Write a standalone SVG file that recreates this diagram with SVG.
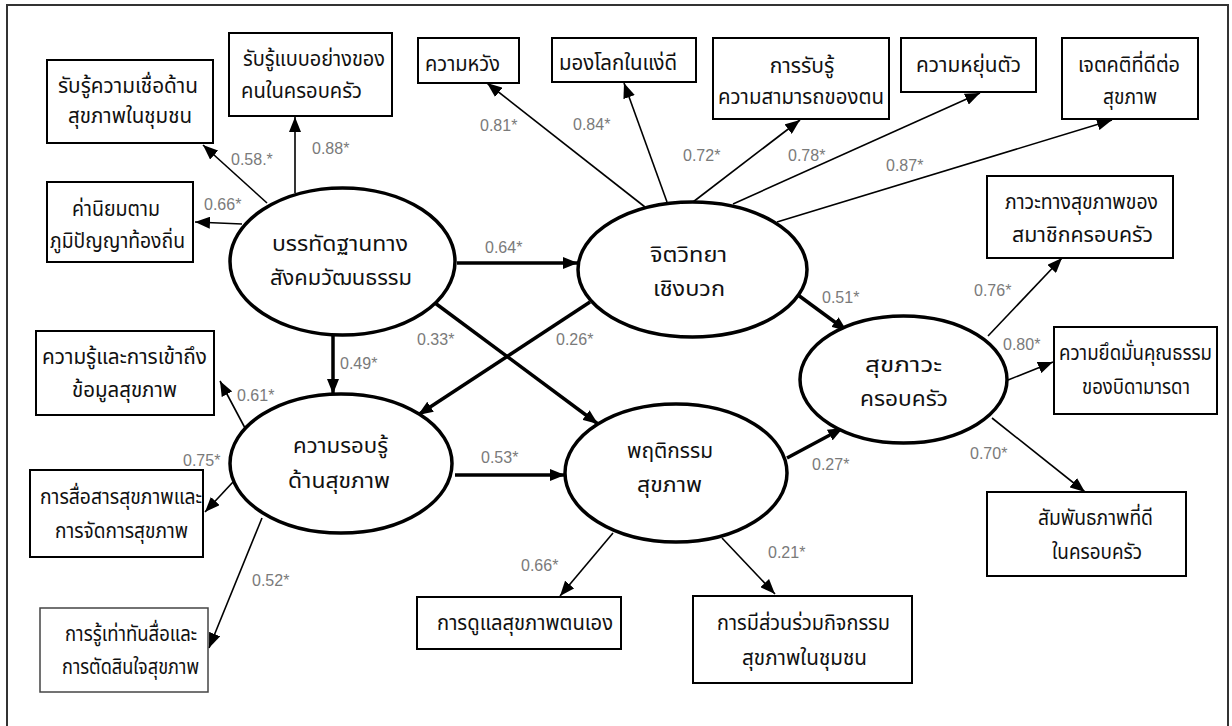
<svg xmlns="http://www.w3.org/2000/svg" width="1232" height="726" viewBox="0 0 1232 726">
<style>
.frame{fill:none;stroke:#333;stroke-width:2}
.box{fill:#fff;stroke:#000;stroke-width:2}
.box2{fill:#fff;stroke:#444;stroke-width:1.5}
.ell{fill:#fff;stroke:#000;stroke-width:3.5}
.t{font-family:"Noto Sans Thai","Tahoma","Liberation Sans",sans-serif;font-size:21px;fill:#111;text-anchor:middle}
.te{font-family:"Noto Sans Thai","Tahoma","Liberation Sans",sans-serif;font-size:22px;fill:#111;text-anchor:middle}
.lb{font-family:"Liberation Sans",Arial,sans-serif;font-size:16px;fill:#7a7a7a}
.thick{fill:none;stroke:#000;stroke-width:3.5;marker-end:url(#ah)}
.thin{fill:none;stroke:#000;stroke-width:1.6;marker-end:url(#ah)}
</style>
<defs>
<marker id="ah" markerUnits="userSpaceOnUse" markerWidth="16" markerHeight="12" refX="15" refY="6" orient="auto">
<path d="M0,0 L15,6 L0,12 z" fill="#000"/>
</marker>
</defs>
<rect class="frame" x="7" y="5" width="1221" height="730"/>

<g id="connectors">
<line class="thick" x1="457" y1="263" x2="578" y2="263"/>
<line class="thick" x1="333" y1="335" x2="333" y2="394"/>
<line class="thick" x1="435" y1="303" x2="598" y2="424"/>
<line class="thick" x1="590" y1="302" x2="418" y2="415"/>
<line class="thick" x1="455" y1="475" x2="565" y2="475"/>
<line class="thick" x1="798" y1="295" x2="847" y2="331"/>
<line class="thick" x1="787" y1="458" x2="843" y2="428"/>
<line class="thin" x1="267" y1="203" x2="203" y2="145"/>
<line class="thin" x1="295" y1="193" x2="295" y2="117"/>
<line class="thin" x1="242" y1="224" x2="195" y2="222"/>
<line class="thin" x1="645" y1="207" x2="487" y2="83"/>
<line class="thin" x1="667" y1="202" x2="624" y2="83"/>
<line class="thin" x1="693" y1="202" x2="800" y2="120"/>
<line class="thin" x1="733" y1="204" x2="980" y2="93"/>
<line class="thin" x1="777" y1="222" x2="1112" y2="120"/>
<line class="thin" x1="988" y1="336" x2="1062" y2="258"/>
<line class="thin" x1="1008" y1="380" x2="1053" y2="362"/>
<line class="thin" x1="992" y1="418" x2="1085" y2="492"/>
<line class="thin" x1="613" y1="533" x2="560" y2="596"/>
<line class="thin" x1="722" y1="538" x2="775" y2="594"/>
<line class="thin" x1="245" y1="428" x2="220" y2="381"/>
<line class="thin" x1="233" y1="482" x2="205" y2="512"/>
<line class="thin" x1="262" y1="518" x2="209" y2="648"/>
</g>

<g id="labels">
<text class="lb" x="231" y="165">0.58.*</text>
<text class="lb" x="312" y="154">0.88*</text>
<text class="lb" x="204" y="210">0.66*</text>
<text class="lb" x="480" y="131">0.81*</text>
<text class="lb" x="573" y="130">0.84*</text>
<text class="lb" x="683" y="161">0.72*</text>
<text class="lb" x="788" y="161">0.78*</text>
<text class="lb" x="886" y="171">0.87*</text>
<text class="lb" x="485" y="253">0.64*</text>
<text class="lb" x="340" y="369">0.49*</text>
<text class="lb" x="237" y="401">0.61*</text>
<text class="lb" x="183" y="466">0.75*</text>
<text class="lb" x="252" y="586">0.52*</text>
<text class="lb" x="417" y="345">0.33*</text>
<text class="lb" x="556" y="345">0.26*</text>
<text class="lb" x="481" y="463">0.53*</text>
<text class="lb" x="822" y="303">0.51*</text>
<text class="lb" x="812" y="470">0.27*</text>
<text class="lb" x="974" y="296">0.76*</text>
<text class="lb" x="1003" y="350">0.80*</text>
<text class="lb" x="970" y="459">0.70*</text>
<text class="lb" x="521" y="571">0.66*</text>
<text class="lb" x="768" y="558">0.21*</text>
</g>

<g id="n-sociocultural">
<ellipse class="ell" cx="342.5" cy="261.5" rx="112.5" ry="73.5"/>
<text class="te" x="340" y="251" textLength="136" lengthAdjust="spacingAndGlyphs">บรรทัดฐานทาง</text>
<text class="te" x="341" y="285" textLength="142" lengthAdjust="spacingAndGlyphs">สังคมวัฒนธรรม</text>
</g>
<g id="n-positive-psych">
<ellipse class="ell" cx="692.5" cy="269.5" rx="114.5" ry="67.5"/>
<text class="te" x="688.5" y="262" textLength="77" lengthAdjust="spacingAndGlyphs">จิตวิทยา</text>
<text class="te" x="689" y="296" textLength="72" lengthAdjust="spacingAndGlyphs">เชิงบวก</text>
</g>
<g id="n-health-literacy">
<ellipse class="ell" cx="341" cy="463.5" rx="111" ry="69.5"/>
<text class="te" x="340.5" y="453" textLength="95" lengthAdjust="spacingAndGlyphs">ความรอบรู้</text>
<text class="te" x="339" y="488" textLength="102" lengthAdjust="spacingAndGlyphs">ด้านสุขภาพ</text>
</g>
<g id="n-health-behavior">
<ellipse class="ell" cx="676" cy="473" rx="111" ry="69"/>
<text class="te" x="670" y="458" textLength="86" lengthAdjust="spacingAndGlyphs">พฤติกรรม</text>
<text class="te" x="669.5" y="492" textLength="65" lengthAdjust="spacingAndGlyphs">สุขภาพ</text>
</g>
<g id="n-family-wellbeing">
<ellipse class="ell" cx="903.5" cy="379.5" rx="103.5" ry="63.5"/>
<text class="te" x="903.5" y="372" textLength="77" lengthAdjust="spacingAndGlyphs">สุขภาวะ</text>
<text class="te" x="904" y="406" textLength="88" lengthAdjust="spacingAndGlyphs">ครอบครัว</text>
</g>

<g id="b-belief">
<rect class="box" x="47" y="60" width="166" height="83"/>
<text class="t" x="128" y="93" textLength="140" lengthAdjust="spacingAndGlyphs">รับรู้ความเชื่อด้าน</text>
<text class="t" x="130" y="123" textLength="124" lengthAdjust="spacingAndGlyphs">สุขภาพในชุมชน</text>
</g>
<g id="b-rolemodel">
<rect class="box" x="229" y="33" width="163" height="83"/>
<text class="t" x="314" y="66" textLength="142" lengthAdjust="spacingAndGlyphs">รับรู้แบบอย่างของ</text>
<text class="t" x="301.5" y="98" textLength="121" lengthAdjust="spacingAndGlyphs">คนในครอบครัว</text>
</g>
<g id="b-values">
<rect class="box" x="47" y="182" width="146" height="80"/>
<text class="t" x="116" y="216" textLength="88" lengthAdjust="spacingAndGlyphs">ค่านิยมตาม</text>
<text class="t" x="117.5" y="248" textLength="135" lengthAdjust="spacingAndGlyphs">ภูมิปัญญาท้องถิ่น</text>
</g>
<g id="b-hope">
<rect class="box" x="418" y="38" width="101" height="45"/>
<text class="t" x="462.5" y="71" textLength="75" lengthAdjust="spacingAndGlyphs">ความหวัง</text>
</g>
<g id="b-optimism">
<rect class="box" x="552" y="38" width="144" height="44"/>
<text class="t" x="618" y="70" textLength="118" lengthAdjust="spacingAndGlyphs">มองโลกในแง่ดี</text>
</g>
<g id="b-efficacy">
<rect class="box" x="713" y="38" width="176" height="81"/>
<text class="t" x="802" y="73">การรับรู้</text>
<text class="t" x="801" y="104" textLength="166" lengthAdjust="spacingAndGlyphs">ความสามารถของตน</text>
</g>
<g id="b-resilience">
<rect class="box" x="901" y="38" width="135" height="54"/>
<text class="t" x="968.5" y="72" textLength="105" lengthAdjust="spacingAndGlyphs">ความหยุ่นตัว</text>
</g>
<g id="b-attitude">
<rect class="box" x="1062" y="38" width="136" height="81"/>
<text class="t" x="1129" y="72" textLength="102" lengthAdjust="spacingAndGlyphs">เจตคติที่ดีต่อ</text>
<text class="t" x="1130" y="104" textLength="54" lengthAdjust="spacingAndGlyphs">สุขภาพ</text>
</g>
<g id="b-member-health">
<rect class="box" x="987" y="176" width="186" height="82"/>
<text class="t" x="1081.5" y="209" textLength="153" lengthAdjust="spacingAndGlyphs">ภาวะทางสุขภาพของ</text>
<text class="t" x="1082.5" y="242" textLength="141" lengthAdjust="spacingAndGlyphs">สมาชิกครอบครัว</text>
</g>
<g id="b-parent-moral">
<rect class="box" x="1054" y="327" width="163" height="87"/>
<text class="t" x="1135.5" y="360" textLength="153" lengthAdjust="spacingAndGlyphs">ความยึดมั่นคุณธรรม</text>
<text class="t" x="1136" y="394" textLength="108" lengthAdjust="spacingAndGlyphs">ของบิดามารดา</text>
</g>
<g id="b-relationship">
<rect class="box" x="987" y="492" width="199" height="84"/>
<text class="t" x="1095.5" y="525" textLength="115" lengthAdjust="spacingAndGlyphs">สัมพันธภาพที่ดี</text>
<text class="t" x="1097" y="559" textLength="90" lengthAdjust="spacingAndGlyphs">ในครอบครัว</text>
</g>
<g id="b-participation">
<rect class="box" x="693" y="596" width="219" height="87"/>
<text class="t" x="803.5" y="630" textLength="173" lengthAdjust="spacingAndGlyphs">การมีส่วนร่วมกิจกรรม</text>
<text class="t" x="804.5" y="665" textLength="125" lengthAdjust="spacingAndGlyphs">สุขภาพในชุมชน</text>
</g>
<g id="b-selfcare">
<rect class="box" x="417" y="597" width="204" height="52"/>
<text class="t" x="525" y="630" textLength="176" lengthAdjust="spacingAndGlyphs">การดูแลสุขภาพตนเอง</text>
</g>
<g id="b-media">
<rect class="box2" x="40" y="608" width="168" height="84"/>
<text class="t" x="131" y="641" textLength="132" lengthAdjust="spacingAndGlyphs">การรู้เท่าทันสื่อและ</text>
<text class="t" x="130.5" y="674" textLength="137" lengthAdjust="spacingAndGlyphs">การตัดสินใจสุขภาพ</text>
</g>
<g id="b-communication">
<rect class="box" x="30" y="470" width="173" height="87"/>
<text class="t" x="121" y="504" textLength="162" lengthAdjust="spacingAndGlyphs">การสื่อสารสุขภาพและ</text>
<text class="t" x="121.5" y="538" textLength="133" lengthAdjust="spacingAndGlyphs">การจัดการสุขภาพ</text>
</g>
<g id="b-knowledge">
<rect class="box" x="36" y="331" width="178" height="84"/>
<text class="t" x="124.5" y="364" textLength="165" lengthAdjust="spacingAndGlyphs">ความรู้และการเข้าถึง</text>
<text class="t" x="124.5" y="397" textLength="105" lengthAdjust="spacingAndGlyphs">ข้อมูลสุขภาพ</text>
</g>
</svg>
